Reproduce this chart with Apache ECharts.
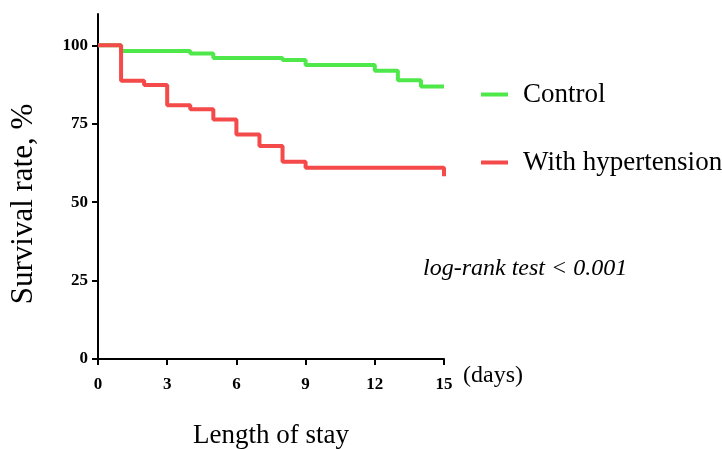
<!DOCTYPE html>
<html>
<head>
<meta charset="utf-8">
<script src="https://cdn.jsdelivr.net/npm/echarts@6/dist/echarts.min.js"></script>
<style>html,body{margin:0;padding:0;background:#fff}#c{width:722px;height:449px}</style>
</head>
<body>
<div id="c"></div>
<script>
// Kaplan-Meier step points: [day, survival %]
const controlDays = [0, 1, 4, 5, 8, 9, 12, 13, 14, 15];
const controlSurv = [100, 98.2, 97.4, 96.0, 95.3, 93.7, 91.9, 88.9, 86.9, 86.9];
const htnDays = [0, 1, 2, 3, 4, 5, 6, 7, 8, 9, 15];
const htnSurv = [100, 88.7, 87.4, 80.9, 79.6, 76.4, 71.6, 67.9, 62.9, 61.0, 58.3];
const seriesNames = ['Control', 'With hypertension'];
const xTicks = [0, 3, 6, 9, 12, 15];
const yTicks = [0, 25, 50, 75, 100];

const FONT = "'Liberation Serif', 'DejaVu Serif', serif";
const chart = echarts.init(document.getElementById('c'), null, {renderer: 'canvas'});
const pair = (xs, ys) => xs.map((x, i) => [x, ys[i]]);

chart.setOption({
  animation: false,
  backgroundColor: '#ffffff',
  grid: {left: 98, right: 278, top: 14, bottom: 90, containLabel: false, outerBoundsMode: 'none'},
  xAxis: {
    type: 'value', min: 0, max: 15, interval: 3,
    name: 'Length of stay', nameLocation: 'middle', nameGap: 63,
    nameTextStyle: {fontFamily: FONT, fontSize: 27, color: '#000'},
    axisLine: {show: true, lineStyle: {color: '#000', width: 2}},
    axisTick: {show: true, length: 6, customValues: xTicks, lineStyle: {color: '#000', width: 2}},
    axisLabel: {fontFamily: FONT, fontSize: 17, fontWeight: 'bold', color: '#000', margin: 17, customValues: xTicks},
    splitLine: {show: false}
  },
  yAxis: {
    type: 'value', min: 0, max: 110,
    axisLine: {show: true, lineStyle: {color: '#000', width: 2}},
    axisTick: {show: true, length: 6, customValues: yTicks, lineStyle: {color: '#000', width: 2}},
    axisLabel: {fontFamily: FONT, fontSize: 17, fontWeight: 'bold', color: '#000', margin: 10, customValues: yTicks},
    splitLine: {show: false}
  },
  legend: {
    orient: 'vertical', left: 476, top: 76,
    icon: 'rect', itemWidth: 27, itemHeight: 4, itemGap: 41,
    textStyle: {fontFamily: FONT, fontSize: 27, color: '#000', lineHeight: 27, padding: [0, 0, 0, 10]},
    data: seriesNames
  },
  series: [
    {
      name: seriesNames[0], type: 'line', step: 'end', showSymbol: false, symbol: 'none',
      data: pair(controlDays, controlSurv),
      lineStyle: {color: '#4ee84a', width: 4}, itemStyle: {color: '#4ee84a'}, z: 2
    },
    {
      name: seriesNames[1], type: 'line', step: 'end', showSymbol: false, symbol: 'none',
      data: pair(htnDays, htnSurv),
      lineStyle: {color: '#f44a4a', width: 4}, itemStyle: {color: '#f44a4a'}, z: 3
    }
  ],
  graphic: [
    {type: 'text', x: 24, y: 204, rotation: Math.PI / 2,
     style: {text: 'Survival rate, %', font: "31px " + FONT, fill: '#000', textAlign: 'center', textVerticalAlign: 'middle'}},
    {type: 'text', left: 423, top: 257,
     style: {text: 'log-rank test < 0.001', font: "italic 24px " + FONT, fill: '#000'}},
    {type: 'text', left: 463, top: 364,
     style: {text: '(days)', font: "24px " + FONT, fill: '#000'}}
  ]
});
</script>
</body>
</html>
